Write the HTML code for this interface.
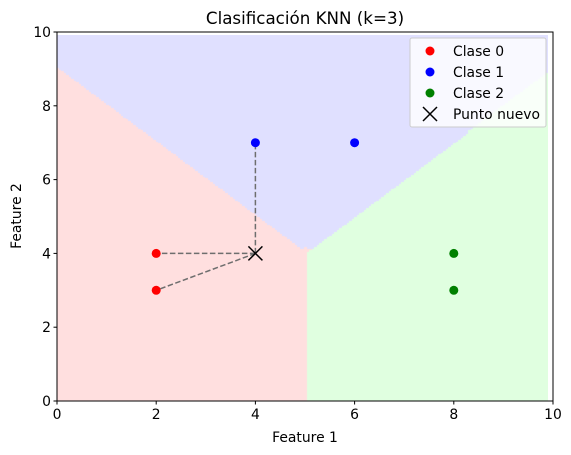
<!DOCTYPE html>
<html><head><meta charset="utf-8"><style>
body{margin:0;background:#fff;width:571px;height:455px;overflow:hidden;font-family:"DejaVu Sans","Liberation Sans",sans-serif;}
#wrap{position:relative;width:571px;height:455px;}
canvas{position:absolute;left:57px;top:35px;}
svg{position:absolute;left:0;top:0;}
</style></head><body>
<div id="wrap">
<canvas id="bg" width="491" height="366"></canvas>
<svg id="s" width="571" height="455"></svg>
</div>
<script>
const classNames=["Clase 0","Clase 1","Clase 2"];
const trainX=[2,2,4,6,8,8];
const trainY=[4,3,7,7,4,3];
const trainC=[0,0,1,1,2,2];
const newPoint=[4,4];
const kNeighbors=3;
const xTicks=[0,2,4,6,8,10];
const yTicks=[0,2,4,6,8,10];
const L=57,R=553,T=32,B=401;
const xs=v=>L+(v-0)/10*(R-L), ys=v=>B-(v-0)/10*(B-T);
const ptColors=["red","blue","green"];
const bgColors=["#ffdfdf","#e0e0ff","#e0ffe0"];
function knn(x,y){
  const d=trainX.map((tx,i)=>[Math.hypot(tx-x,trainY[i]-y),trainC[i],i]).sort((a,b)=>a[0]-b[0]||a[2]-b[2]);
  const cnt=[0,0,0];d.slice(0,kNeighbors).forEach(e=>cnt[e[1]]++);
  let best=0;for(let c=1;c<3;c++)if(cnt[c]>cnt[best])best=c;return {c:best,nb:d.slice(0,kNeighbors)};
}
const ctx=document.getElementById('bg').getContext('2d');
const step=0.05;
const cT=35;
for(let gx=0;gx<10;gx+=step)for(let gy=0;gy<10;gy+=step){
  ctx.fillStyle=bgColors[knn(gx,gy).c];
  const x0=xs(gx)-L,x1=xs(gx+step)-L,y0=ys(gy+step)-cT,y1=ys(gy)-cT;
  ctx.fillRect(Math.floor(x0),Math.floor(y0),Math.ceil(x1-x0)+1,Math.ceil(y1-y0)+1);
}
const s=document.getElementById('s');const NS="http://www.w3.org/2000/svg";
function mk(t,a,txt){const e=document.createElementNS(NS,t);for(const k in a)e.setAttribute(k,a[k]);if(txt!=null)e.textContent=txt;s.appendChild(e);return e;}
knn(newPoint[0],newPoint[1]).nb.forEach(n=>{
  const e=mk('line',{x1:xs(newPoint[0]),y1:ys(newPoint[1]),x2:xs(trainX[n[2]]),y2:ys(trainY[n[2]]),stroke:'#6e6e6e','stroke-width':1.5,'stroke-dasharray':'5.5,2.5'});
  
  
});
trainX.forEach((tx,i)=>{
  const e=mk('circle',{cx:xs(tx),cy:ys(trainY[i]),r:4.5,fill:ptColors[trainC[i]]});
  
  
});
function cross(cx,cy,h,name){const g=mk('g',{stroke:'#000','stroke-width':1.5});
  
  
  const a=document.createElementNS(NS,'line');a.setAttribute('x1',cx-h);a.setAttribute('y1',cy-h);a.setAttribute('x2',cx+h);a.setAttribute('y2',cy+h);g.appendChild(a);
  const b=document.createElementNS(NS,'line');b.setAttribute('x1',cx-h);b.setAttribute('y1',cy+h);b.setAttribute('x2',cx+h);b.setAttribute('y2',cy-h);g.appendChild(b);}
cross(xs(newPoint[0]),ys(newPoint[1]),7,'new-point');
const fr=mk('rect',{x:L,y:T,width:R-L,height:B-T,fill:'none',stroke:'#000','stroke-width':1});

xTicks.forEach(v=>{mk('line',{x1:xs(v),x2:xs(v),y1:B,y2:B+3.5,stroke:'#000'});
  const t=mk('text',{x:xs(v),y:B+18,'font-size':13.9,'text-anchor':'middle'},v);
  });
yTicks.forEach(v=>{mk('line',{x1:L-3.5,x2:L,y1:ys(v),y2:ys(v),stroke:'#000'});
  const t=mk('text',{x:L-6,y:ys(v)+5,'font-size':13.9,'text-anchor':'end'},v);
  });
</script>
<svg width="571" height="455" style="position:absolute;left:0;top:0">
<text x="305" y="24" font-size="16.7" text-anchor="middle">Clasificación KNN (k=3)</text>
<text x="305" y="442" font-size="13.9" text-anchor="middle">Feature 1</text>
<text x="21" y="216" font-size="13.9" text-anchor="middle" transform="rotate(-90 21 216)">Feature 2</text>
<g>
<rect x="410" y="38" width="136" height="89" rx="2" fill="#fff" fill-opacity="0.8" stroke="#ccc"/>
<g><circle cx="430" cy="51" r="4.5" fill="red"/><text x="453" y="56" font-size="13.9">Clase 0</text></g>
<g><circle cx="430" cy="72" r="4.5" fill="blue"/><text x="453" y="77" font-size="13.9">Clase 1</text></g>
<g><circle cx="430" cy="93" r="4.5" fill="green"/><text x="453" y="98" font-size="13.9">Clase 2</text></g>
<g><path d="M423 107 L437 121 M423 121 L437 107" stroke="#000" stroke-width="1.5"/><text x="453" y="119" font-size="13.9">Punto nuevo</text></g>
</g>
</svg>
</body></html>
